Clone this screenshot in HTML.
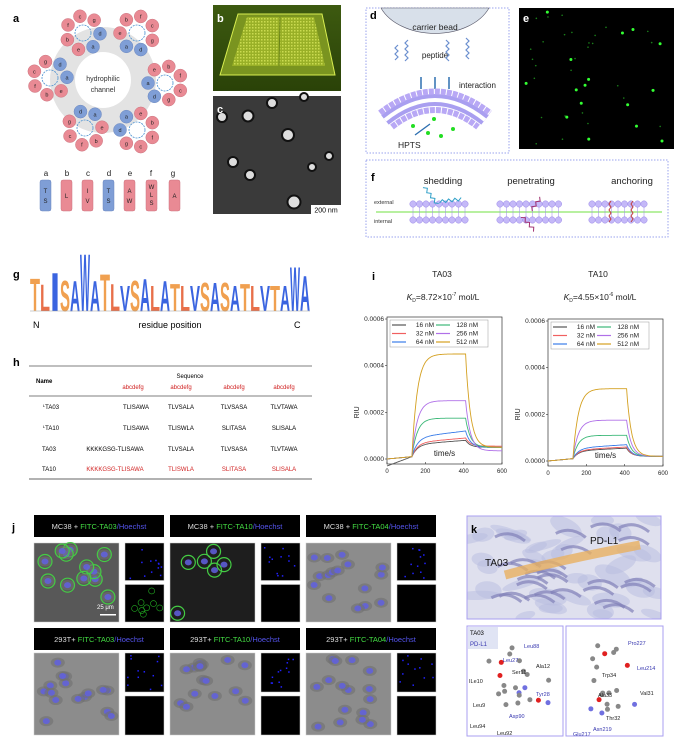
<!DOCTYPE html>
<html><head><meta charset="utf-8"><style>
html,body{margin:0;padding:0;background:#fff}
svg{display:block;font-family:"Liberation Sans",Arial,sans-serif}
</style></head><body>
<svg id="s" width="683" height="750" viewBox="0 0 683 750" xmlns="http://www.w3.org/2000/svg">
<rect width="683" height="750" fill="#fff"/>
<defs>
<clipPath id="kc"><rect x="467" y="516" width="194" height="103"/></clipPath>
<linearGradient id="gb" x1="0" y1="0" x2="0" y2="1"><stop offset="0" stop-color="#3d5a10"/><stop offset="1" stop-color="#2a4208"/></linearGradient>
<pattern id="grid" width="3" height="3" patternUnits="userSpaceOnUse"><rect width="3" height="3" fill="#9fb528"/><rect width="1.5" height="1.5" fill="#d8e85a"/></pattern>
</defs>
<!-- a -->
<text x="13" y="22" font-size="11" font-weight="bold">a</text>
<circle cx="103" cy="80" r="53" fill="#e3e3e3"/>
<circle cx="103" cy="80" r="28" fill="#fff"/>
<text x="103" y="81" font-size="7" text-anchor="middle" fill="#333">hydrophilic</text>
<text x="103" y="92" font-size="7" text-anchor="middle" fill="#333">channel</text>
<g id="wheels"></g>
<g font-size="8" text-anchor="middle" fill="#222">
<text x="46" y="176">a</text><text x="67" y="176">b</text><text x="88" y="176">c</text><text x="109" y="176">d</text><text x="130" y="176">e</text><text x="151" y="176">f</text><text x="173" y="176">g</text>
</g>
<g stroke-width="0.5">
<rect x="40" y="180" width="11" height="31" rx="2" fill="#7f9ed6" stroke="#6c88c0"/>
<rect x="61" y="180" width="11" height="31" rx="2" fill="#e98a94" stroke="#cc7580"/>
<rect x="82" y="180" width="11" height="31" rx="2" fill="#e98a94" stroke="#cc7580"/>
<rect x="103" y="180" width="11" height="31" rx="2" fill="#7f9ed6" stroke="#6c88c0"/>
<rect x="124" y="180" width="11" height="31" rx="2" fill="#e98a94" stroke="#cc7580"/>
<rect x="146" y="180" width="11" height="31" rx="2" fill="#e98a94" stroke="#cc7580"/>
<rect x="169" y="180" width="11" height="31" rx="2" fill="#e98a94" stroke="#cc7580"/>
</g>
<g font-size="6" text-anchor="middle" fill="#222">
<text x="45.5" y="193">T</text><text x="45.5" y="203">S</text>
<text x="66.5" y="198">L</text>
<text x="87.5" y="193">I</text><text x="87.5" y="203">V</text>
<text x="108.5" y="193">T</text><text x="108.5" y="203">S</text>
<text x="129.5" y="193">A</text><text x="129.5" y="203">W</text>
<text x="151.5" y="189">W</text><text x="151.5" y="197">L</text><text x="151.5" y="205">S</text>
<text x="174.5" y="198">A</text>
</g>
<!-- b -->
<rect x="213" y="5" width="128" height="86" fill="url(#gb)"/>
<polygon points="238,14 322,14 335,75 220,75" fill="#7a9420" stroke="#d8ee50" stroke-width="1"/>
<polygon points="247,17 314,17 325,66 232,66" fill="url(#grid)" opacity="0.85"/>
<line x1="280" y1="17" x2="279" y2="66" stroke="#6a8418" stroke-width="1"/>
<text x="217" y="22" font-size="11" font-weight="bold" fill="#fff">b</text>
<!-- c -->
<rect x="213" y="96" width="128" height="118" fill="#3a3a3a"/>
<g fill="#ddd" stroke="#111" stroke-width="2">
<circle cx="222" cy="117" r="5"/><circle cx="248" cy="116" r="5.5"/><circle cx="272" cy="103" r="5"/>
<circle cx="288" cy="135" r="6"/><circle cx="233" cy="162" r="5"/><circle cx="250" cy="175" r="5"/>
<circle cx="312" cy="167" r="4"/><circle cx="329" cy="156" r="4"/><circle cx="294" cy="202" r="6.5"/><circle cx="304" cy="97" r="4"/>
</g>
<rect x="311" y="205" width="30" height="9" fill="#fff"/>
<text x="326" y="212.5" font-size="7" text-anchor="middle">200 nm</text>
<text x="217" y="113" font-size="11" font-weight="bold" fill="#fff">c</text>
<!-- d -->
<rect x="366" y="8" width="143" height="145" fill="none" stroke="#99a3ee" stroke-dasharray="1.5,1.5"/>
<path d="M381 8 A58 40 0 0 0 489 8 Z" fill="#d8e0ea" stroke="#556" stroke-width="0.6"/>
<text x="435" y="30" font-size="8.5" text-anchor="middle" fill="#222">carrier bead</text>
<text x="435" y="58" font-size="8" text-anchor="middle" fill="#222">peptide</text>
<g stroke="#6b8fcf" fill="none" stroke-width="1.2">
<path d="M408 40 l-3 3 l3 3 l-3 3 l3 3 l-3 3 l3 3 l-3 3"/><path d="M446 40 l3 3 l-3 3 l3 3 l-3 3 l3 3 l-3 3 l3 3"/>
<path d="M466 38 l3 3 l-3 3 l3 3 l-3 3 l3 3 l-3 3 l3 3"/><path d="M398 45 l-3 3 l3 3 l-3 3 l3 3 l-3 3"/>
</g>
<g stroke="#2d6fb0" stroke-width="1.5" fill="#2d6fb0">
<line x1="421" y1="77" x2="421" y2="89"/><line x1="435" y1="77" x2="435" y2="89"/><line x1="449" y1="77" x2="449" y2="89"/>
</g>
<text x="459" y="88" font-size="8" fill="#222">interaction</text>
<path d="M385 120 Q435 80 485 120" fill="none" stroke="#a99ff0" stroke-width="12"/>
<path d="M385 120 Q435 80 485 120" fill="none" stroke="#fff" stroke-width="4"/>
<path d="M380 113 Q435 70 490 113" fill="none" stroke="#b8a8f5" stroke-width="6" stroke-dasharray="5,1"/>
<path d="M392 127 Q435 93 478 127" fill="none" stroke="#b8a8f5" stroke-width="6" stroke-dasharray="5,1"/>
<g fill="#22dd22"><circle cx="413" cy="126" r="2"/><circle cx="428" cy="133" r="2"/><circle cx="441" cy="136" r="2"/><circle cx="453" cy="129" r="2"/><circle cx="434" cy="119" r="2"/></g>
<line x1="415" y1="135" x2="430" y2="124" stroke="#2d6fb0" stroke-width="1.3"/>
<text x="398" y="148" font-size="8.5" fill="#222">HPTS</text>
<text x="370" y="19" font-size="11" font-weight="bold">d</text>
<!-- e -->
<rect x="519" y="8" width="155" height="141" fill="#000"/>
<g id="edots" fill="#3f3"></g>
<text x="523" y="22" font-size="11" font-weight="bold" fill="#fff">e</text>
<!-- f -->
<rect x="366" y="160" width="302" height="77" fill="none" stroke="#99a3ee" stroke-dasharray="1.5,1.5"/>
<text x="371" y="181" font-size="11" font-weight="bold">f</text>
<g font-size="9.5" fill="#222" text-anchor="middle"><text x="443" y="184">shedding</text><text x="531" y="184">penetrating</text><text x="632" y="184">anchoring</text></g>
<text x="374" y="204" font-size="5.5" fill="#333">external</text>
<text x="374" y="223" font-size="5.5" fill="#333">internal</text>
<line x1="376" y1="212" x2="662" y2="212" stroke="#b8f0a0" stroke-width="2"/>
<g id="bilayers"></g>
<g fill="none" stroke-width="1">
<path d="M420 193 l4 -2 l2 4 l4 -2 l2 4 l4 -2 l2 4 l4 -2" stroke="#30a0c8" transform="rotate(35 430 195)"/>
<path d="M437 198 l4 -2 l2 4 l4 -2 l2 4 l4 -2 l2 4 l4 -2" stroke="#30a0c8" transform="rotate(-25 450 195)"/>
<path d="M535 205 l4 -2 l2 4 l4 -2 l2 4 l4 -2" stroke="#a03070" transform="rotate(-70 538 210)"/>
<path d="M517 218 l4 -2 l2 4 l4 -2 l2 4 l4 -2 l2 4" stroke="#a03070" transform="rotate(30 520 225)"/>
<path d="M611 201 l-2 3 l2 3 l-2 3 l2 3 l-2 3 l2 3 l-2 3" stroke="#c04040"/>
<path d="M633 201 l-2 3 l2 3 l-2 3 l2 3 l-2 3 l2 3 l-2 3" stroke="#c04040"/>
</g>
<!-- g -->
<text x="13" y="278" font-size="11" font-weight="bold">g</text>
<g id="logo"></g>
<line x1="30" y1="311" x2="310" y2="311" stroke="#999" stroke-width="0.6"/>
<text x="33" y="328" font-size="9">N</text>
<text x="170" y="328" font-size="9" text-anchor="middle">residue position</text>
<text x="294" y="328" font-size="9">C</text>
<!-- h -->
<text x="13" y="366" font-size="11" font-weight="bold">h</text>
<line x1="29" y1="366" x2="312" y2="366" stroke="#555" stroke-width="0.8"/>
<line x1="29" y1="396" x2="312" y2="396" stroke="#555" stroke-width="0.8"/>
<line x1="29" y1="479" x2="312" y2="479" stroke="#999" stroke-width="1.5"/>
<g font-size="6">
<text x="36" y="383" font-weight="bold">Name</text>
<text x="190" y="378" text-anchor="middle">Sequence</text>
<g fill="#d02020" text-anchor="middle"><text x="133" y="389">abcdefg</text><text x="181" y="389">abcdefg</text><text x="234" y="389">abcdefg</text><text x="284" y="389">abcdefg</text></g>
<g text-anchor="middle">
<text x="51" y="409"><tspan font-size="4" dy="-2">L</tspan><tspan dy="2">TA03</tspan></text><text x="136" y="409">TLISAWA</text><text x="181" y="409">TLVSALA</text><text x="234" y="409">TLVSASA</text><text x="284" y="409">TLVTAWA</text>
<text x="51" y="430"><tspan font-size="4" dy="-2">L</tspan><tspan dy="2">TA10</tspan></text><text x="136" y="430">TLISAWA</text><text x="181" y="430">TLISWLA</text><text x="234" y="430">SLITASA</text><text x="284" y="430">SLISALA</text>
<text x="49" y="451">TA03</text><text x="115" y="451">KKKKGSG-TLISAWA</text><text x="181" y="451">TLVSALA</text><text x="234" y="451">TLVSASA</text><text x="284" y="451">TLVTAWA</text>
<text x="49" y="471">TA10</text>
<g fill="#d02020"><text x="115" y="471">KKKKGSG-TLISAWA</text><text x="181" y="471">TLISWLA</text><text x="234" y="471">SLITASA</text><text x="284" y="471">SLISALA</text></g>
</g></g>
<!-- i -->
<text x="372" y="280" font-size="11" font-weight="bold">i</text>
<g font-size="8.5" text-anchor="middle" fill="#222">
<text x="442" y="277">TA03</text><text x="598" y="277">TA10</text>
<text x="443" y="300"><tspan font-style="italic">K</tspan><tspan font-size="5" dy="2">D</tspan><tspan dy="-2">=8.72×10</tspan><tspan font-size="5" dy="-4">-7</tspan><tspan dy="4"> mol/L</tspan></text>
<text x="600" y="300"><tspan font-style="italic">K</tspan><tspan font-size="5" dy="2">D</tspan><tspan dy="-2">=4.55×10</tspan><tspan font-size="5" dy="-4">-6</tspan><tspan dy="4"> mol/L</tspan></text>
</g>
<g id="plots"></g>
<!-- j -->
<text x="12" y="531" font-size="11" font-weight="bold">j</text>
<g id="micro"></g>
<!-- k -->
<rect x="467" y="516" width="194" height="103" fill="#dfe0ee" stroke="#a99ff0"/>
<g id="prot" clip-path="url(#kc)"></g>
<rect x="467" y="516" width="194" height="103" fill="none" stroke="#a99ff0"/>
<text x="471" y="533" font-size="11" font-weight="bold">k</text>
<text x="485" y="566" font-size="10" fill="#111">TA03</text>
<text x="590" y="544" font-size="10" fill="#111">PD-L1</text>
<rect x="467" y="626" width="96" height="110" fill="#fff" stroke="#a99ff0"/>
<rect x="566" y="626" width="97" height="110" fill="#fff" stroke="#a99ff0"/>
<rect x="468" y="627" width="30" height="22" fill="#e0e4f4"/>
<text x="470" y="635" font-size="6">TA03</text>
<text x="470" y="646" font-size="6" fill="#3838b0">PD-L1</text>
<g id="mol"></g>
</svg>
<script>
var NS="http://www.w3.org/2000/svg";
function el(p,t,a,txt){var e=document.createElementNS(NS,t);for(var k in a)e.setAttribute(k,a[k]);if(txt!==undefined)e.textContent=txt;document.getElementById(p).appendChild(e);return e;}
var seed=7;function r(){seed=(seed*9301+49297)%233280;return seed/233280;}
var W=[[83,33,-2.2],[137,33,-0.9],[50,78,3.1],[165,83,0],[85,128,2.2],[137,130,0.9]];
var labs=["a","b","c","d","e","f","g"];
W.forEach(function(w){
 el("wheels","circle",{cx:w[0],cy:w[1],r:8,fill:"none",stroke:"#4a90d0","stroke-width":0.8,"stroke-dasharray":"2,1"});
 for(var i=0;i<7;i++){var ang=w[2]+i*2*Math.PI*2/7;
  var x=w[0]+17*Math.cos(ang+Math.PI),y=w[1]+17*Math.sin(ang+Math.PI);
  var L=labs[i];var blue=(L=="a"||L=="d");
  el("wheels","circle",{cx:x,cy:y,r:6.5,fill:blue?"#7f9ed6":"#e98a94",stroke:blue?"#6c88c0":"#cc7580","stroke-width":0.5});
  el("wheels","text",{x:x,y:y+2,"font-size":5.5,"text-anchor":"middle",fill:"#222"},L);
 }
});
for(var i=0;i<45;i++){var big=r()<0.4;el("edots","circle",{cx:523+r()*148,cy:12+r()*133,r:big?1.5:0.8,opacity:big?1:0.5});}
[[413,470],[500,560],[592,650]].forEach(function(b){
 for(var x=b[0];x<=b[1];x+=6.5){
  el("bilayers","circle",{cx:x,cy:204,r:3.2,fill:"#c4b8f8",stroke:"#9a88e8","stroke-width":0.5});
  el("bilayers","circle",{cx:x,cy:220,r:3.2,fill:"#c4b8f8",stroke:"#9a88e8","stroke-width":0.5});
  el("bilayers","line",{x1:x,y1:207,x2:x,y2:217,stroke:"#9a88e8","stroke-width":0.5});
 }});
var seq="TLISAWATLVSALATLVSASATLVTAWA";
var tops=[278,284,272,280,280,253,280,273,283,285,280,278,285,280,283,285,285,282,282,282,285,283,285,285,285,285,266,275];
for(var i=0;i<28;i++){var c=seq[i];var col=(c=="T"||c=="S")?"#f0a050":(c=="L"?"#e8704a":"#3a64e0");
 var s=(311-tops[i])/10;
 el("logo","text",{transform:"translate("+(30+i*10)+",311) scale(1,"+s+")","font-size":14,textLength:10,lengthAdjust:"spacingAndGlyphs",fill:col,"font-weight":"bold"},c);}
function plot(x0,x1,y0,y1,P,fin,rough){
 var sx=function(t){return x0+t*(x1-x0)/600},sy=function(v){return y1-v*(y1-y0)/0.0006};
 var g="plots";
 el(g,"rect",{x:x0,y:y0-2,width:x1-x0,height:(y1-y0)+4+3,fill:"none",stroke:"#333","stroke-width":0.7});
 [0,200,400,600].forEach(function(t){el(g,"line",{x1:sx(t),y1:y1+5,x2:sx(t),y2:y1+3,stroke:"#333","stroke-width":0.6});
  el(g,"text",{x:sx(t),y:y1+14,"font-size":6,"text-anchor":"middle",fill:"#222"},t);});
 [0,0.0002,0.0004,0.0006].forEach(function(v){el(g,"line",{x1:x0-2,y1:sy(v),x2:x0,y2:sy(v),stroke:"#333","stroke-width":0.6});
  el(g,"text",{x:x0-3,y:sy(v)+2,"font-size":6.5,"text-anchor":"end",fill:"#222"},v.toFixed(4));});
 el(g,"text",{transform:"translate("+(x0-28)+","+sy(0.0002)+") rotate(-90)","font-size":7,"text-anchor":"middle",fill:"#222"},"RIU");
 el(g,"text",{x:(x0+x1)/2,y:y1-3,"font-size":8,"text-anchor":"middle",fill:"#222"},"time/s");
 var cols=["#555","#f06060","#3b7de8","#3cb878","#b070e8","#d4a020"];
 var names=["16 nM","32 nM","64 nM","128 nM","256 nM","512 nM"];
 for(var k=0;k<6;k++){var d="";for(var t=0;t<=600;t+=5){var v;
  if(t<130)v=0.00001*t/130+(rough&&k==0?-0.00003*(1-t/130):0);
  else if(t<410)v=0.00001+(P[k]-0.00001)*(1-Math.exp(-(t-130)/28))*(k<3?(0.75+0.25*(t-130)/280):1);
  else{var pk=P[k];v=fin[k]+(pk-fin[k])*Math.exp(-(t-410)/25);}
  d+=(t?"L":"M")+sx(t).toFixed(1)+" "+sy(v).toFixed(1);}
  el(g,"path",{d:d,fill:"none",stroke:cols[k],"stroke-width":0.9});}
 el(g,"rect",{x:x0+3,y:y0+1,width:x1-x0-17,height:27,fill:"#fff",stroke:"#999","stroke-width":0.5});
 for(var k=0;k<6;k++){var cx=x0+5+(k>=3?44:0),cy=y0+6+(k%3)*8.5;
  el(g,"line",{x1:cx,y1:cy,x2:cx+14,y2:cy,stroke:cols[k],"stroke-width":1.2});
  el(g,"text",{x:cx+42,y:cy+2,"font-size":6.5,"text-anchor":"end",fill:"#222"},names[k]);}
}
plot(387,502,319,459,[0.00008,0.00009,0.00012,0.000175,0.00025,0.00045],[0.00005,0.000055,0.00005,0.00005,0.000035,0.00005],true);
plot(548,663,321,461,[0.000055,0.00006,0.00007,0.00011,0.000175,0.00031],[0.00002,0.00002,0.00002,0.00002,0.00002,0.00002],false);
var hdr=[["MC38 + ","FITC-TA03"],["MC38 + ","FITC-TA10"],["MC38 + ","FITC-TA04"],["293T+ ","FITC-TA03"],["293T+ ","FITC-TA10"],["293T+ ","FITC-TA04"]];
var cx=[34,170,306];
for(var row=0;row<2;row++)for(var c=0;c<3;c++){
 var x=cx[c],hy=row?628:515,iy=row?653:543,ih=row?82:79,idx=row*3+c;
 el("micro","rect",{x:x,y:hy,width:130,height:22,fill:"#000"});
 var t=el("micro","text",{x:x+65,y:hy+14,"font-size":7.5,"text-anchor":"middle",fill:"#ddd"});
 var a=document.createElementNS(NS,"tspan");a.textContent=hdr[idx][0];t.appendChild(a);
 a=document.createElementNS(NS,"tspan");a.textContent=hdr[idx][1];a.setAttribute("fill","#4d4");t.appendChild(a);
 a=document.createElementNS(NS,"tspan");a.textContent="/Hoechst";a.setAttribute("fill","#55e");t.appendChild(a);
 var dark=(idx==1);
 el("micro","rect",{x:x,y:iy,width:85,height:ih,fill:dark?"#1e1e1e":(idx==0?"#585858":"#8c8c8c"),stroke:"#ccc","stroke-width":0.5});
 var n=dark?6:(idx==0?12:16);
 for(var i=0;i<n;i++){var px=x+6+r()*73,py=iy+6+r()*(ih-12);
  if(!dark)el("micro","ellipse",{cx:px,cy:py,rx:7,ry:5,fill:"#6f6f6f",opacity:0.6});
  if(idx==0||dark)el("micro","circle",{cx:px,cy:py,r:7,fill:"none",stroke:"#4c4","stroke-width":1.2});
  el("micro","ellipse",{cx:px,cy:py,rx:3.5,ry:3,fill:"#6060e0",opacity:0.85});}
 el("micro","rect",{x:x+91,y:iy,width:39,height:(ih-4)/2,fill:"#000",stroke:"#ccc","stroke-width":0.5});
 el("micro","rect",{x:x+91,y:iy+(ih+4)/2,width:39,height:(ih-4)/2,fill:"#000",stroke:"#ccc","stroke-width":0.5});
 for(var i=0;i<12;i++)el("micro","rect",{x:x+93+r()*34,y:iy+2+r()*(ih/2-6),width:1.5,height:1.5,fill:"#22f"});
 if(idx==0)for(var i=0;i<8;i++)el("micro","circle",{cx:x+96+r()*30,cy:iy+(ih+4)/2+5+r()*28,r:3,fill:"none",stroke:"#2a2","stroke-width":0.6});
}
el("micro","text",{x:97,y:609,"font-size":6,fill:"#fff"},"25 μm");
el("micro","rect",{x:100,y:614,width:16,height:1.5,fill:"#fff"});
for(var i=0;i<40;i++){var ex=470+r()*188,ey=519+r()*97;el("prot","ellipse",{cx:ex,cy:ey,rx:10+r()*12,ry:4+r()*5,fill:"#b8bce0",opacity:0.5,transform:"rotate("+(r()*60-30)+" "+ex+" "+ey+")"});}
for(var i=0;i<25;i++)el("prot","path",{d:"M"+(470+r()*160)+" "+(525+r()*85)+" q15 -8 30 4",fill:"none",stroke:"#8080b8","stroke-width":3,opacity:0.7});
el("prot","path",{d:"M505 575 Q560 560 640 545",fill:"none",stroke:"#e8b060","stroke-width":9,opacity:0.8});
var mols=[[515,690],[508,662],[530,695],[612,660],[600,695],[620,705]];
for(var i=0;i<40;i++){var m=mols[i%6];var q=r();el("mol","circle",{cx:m[0]+r()*40-20,cy:m[1]+r()*30-15,r:2.5,fill:q<0.2?"#e02020":(q<0.3?"#7070e0":"#888")});}
[["Leu27",503,662],["Leu88",524,648],["Ala12",536,668],["Ser11",512,674],["ILe10",469,683],["Tyr28",536,696],["Leu9",473,707],["Asp90",509,718],["Leu94",470,728],["Leu92",497,735],["Pro227",628,645],["Trp34",602,677],["Leu214",637,670],["Val31",640,695],["Ala33",598,697],["Thr32",606,720],["Asn219",593,731],["Glu217",573,736]].forEach(function(l){
 el("mol","text",{x:l[1],y:l[2],"font-size":5.5,fill:(/Ala12|Ser11|ILe10|Leu9|Trp34|Val31|Ala33|Thr32/.test(l[0]))?"#222":"#3838b0"},l[0]);});
</script>
</body></html>
